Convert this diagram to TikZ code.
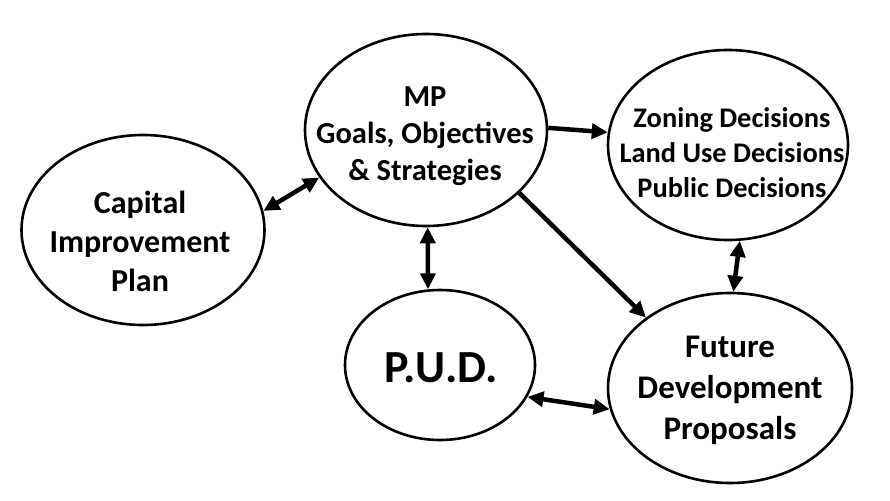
\documentclass[tikz,border=0pt]{standalone}
\usepackage{fontspec}
\setmainfont{Carlito}
\usetikzlibrary{arrows.meta,shapes.geometric}
\tikzset{
  blob/.style={draw=black, line width=2.6pt, ellipse, inner sep=0pt, fill=white},
  txt/.style={align=center, font=\bfseries, inner sep=0pt},
  conn/.style={line width=4.5pt, -{Triangle[length=16pt,width=15pt]}},
  dconn/.style={line width=4.5pt, {Triangle[length=16pt,width=15pt]}-{Triangle[length=16pt,width=15pt]}},
}
\begin{document}
\begin{tikzpicture}[x=1pt,y=-1pt]
\useasboundingbox (0,0) rectangle (890,500);
\node[blob, minimum width=243pt, minimum height=190pt] (cip) at (143,230) {};
\node[blob, minimum width=242pt, minimum height=192pt] (mp) at (426,130) {};
\node[blob, minimum width=240pt, minimum height=190pt] (zon) at (728,145) {};
\node[blob, minimum width=190pt, minimum height=150pt] (pud) at (440,365) {};
\node[blob, minimum width=244pt, minimum height=190pt] (fut) at (730,388) {};

\node[txt, font=\fontsize{32}{39}\selectfont\bfseries] (cipt) at (140,241) {Capital\\Improvement\\Plan};
\node[txt, font=\fontsize{30.5}{37}\selectfont\bfseries] (mpt) at (425,136) {MP\\Goals, Objectives\\\& Strategies};
\node[txt, font=\fontsize{28.4}{35}\selectfont\bfseries] (zont) at (732,153) {Zoning Decisions\\Land Use Decisions\\Public Decisions};
\node[txt, font=\fontsize{46}{50}\selectfont\bfseries] (pudt) at (441,368) {P.U.D.};
\node[txt, font=\fontsize{33}{41}\selectfont\bfseries] (futt) at (730,390) {Future\\Development\\Proposals};

\draw[dconn] (cip.9.5) -- (mp.204);
\draw[conn] (mp.1.5) -- (zon.174);
\draw[conn] (mp.-34) -- (fut.140);
\draw[dconn] (mp.271) -- (pud.99);
\draw[dconn] (zon.277) -- (fut.88);
\draw[dconn] (pud.-20) -- (fut.190.5);
\end{tikzpicture}
\end{document}
